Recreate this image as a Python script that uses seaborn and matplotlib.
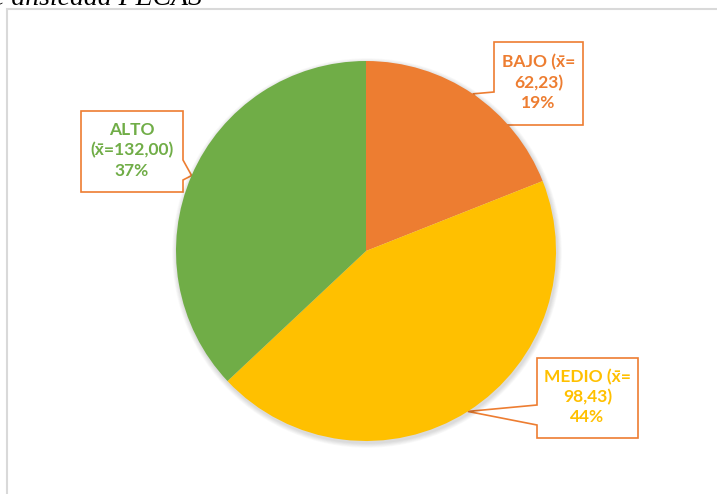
import matplotlib
matplotlib.use("Agg")
import matplotlib.pyplot as plt
from matplotlib.patches import Polygon, Rectangle
import numpy as np
import seaborn as sns

sns.set_theme(style="white")

# data
niveles = ["BAJO", "MEDIO", "ALTO"]
medias = ["62,23", "98,43", "132,00"]
porcentajes = [19, 44, 37]
colores = ["#ED7D31", "#FFC000", "#70AD47"]

# how each callout wraps its text (like the original boxes)
etiquetas = [
    f"{niveles[0]} (x\u0304=\n{medias[0]})\n{porcentajes[0]}%",
    f"{niveles[1]} (x\u0304=\n{medias[1]})\n{porcentajes[1]}%",
    f"{niveles[2]}\n(x\u0304={medias[2]})\n{porcentajes[2]}%",
]

W, H = 717, 494
fig = plt.figure(figsize=(W / 100, H / 100), dpi=100)
ax = fig.add_axes([0, 0, 1, 1])

# pie in pixel-like units
cx, cy, r = 366, H - 251, 190

# soft shadow like the Excel one
for k in range(6, 0, -1):
    ax.add_patch(plt.Circle((cx + 1, cy - 2), r + k * 0.8, color="black",
                            alpha=0.025, linewidth=0, zorder=1.5))

wedges, _ = ax.pie(porcentajes, colors=colores, startangle=90, counterclock=False,
                   center=(cx, cy), radius=r, frame=False,
                   wedgeprops=dict(linewidth=0, zorder=2))
ax.set_xlim(0, W)
ax.set_ylim(0, H)
ax.set_aspect("auto")
ax.axis("off")

# callout boxes: (left, top, right, bottom) in image px, side of pointer, pointer base
cajas = [
    ((494, 42, 583, 125), "left", (92, 118)),
    ((537, 358, 638, 438), "left", (405, 425)),
    ((81, 111, 183, 192), "right", (160, 180)),
]

for w, lab, col, (box, side, base) in zip(wedges, etiquetas, colores, cajas):
    x0, t, x1, b = box
    t, b = H - t, H - b
    b1, b2 = H - base[0], H - base[1]
    ang = np.deg2rad((w.theta1 + w.theta2) / 2)
    tip = (cx + r * np.cos(ang), cy + r * np.sin(ang))
    if side == "left":
        pts = [(x0, t), (x1, t), (x1, b), (x0, b), (x0, b2), tip, (x0, b1)]
    else:
        pts = [(x0, t), (x1, t), (x1, b1), tip, (x1, b2), (x1, b), (x0, b)]
    ax.add_patch(Polygon(pts, closed=True, facecolor="white", edgecolor="#ED7D31",
                         linewidth=1.2, zorder=1))
    ax.text((x0 + x1) / 2, (t + b) / 2 + 1, lab, ha="center", va="center",
            color=col, fontsize=12.5, fontweight="bold", linespacing=1.3,
            family=["Lato", "DejaVu Sans"], zorder=3)

# chart area border (runs off the right and bottom of the crop)
ax.add_patch(Rectangle((7, -20), 760, H - 9 + 20, fill=False,
                       edgecolor="#D9D9D9", linewidth=1.5, zorder=0))

# cropped caption at the very top
fig.text(-8 / W, (H - 5) / H, "e ansiedad PECAS", family="Liberation Serif",
         style="italic", fontsize=20, va="baseline", ha="left", color="black")

fig.savefig("out.png", dpi=100)
